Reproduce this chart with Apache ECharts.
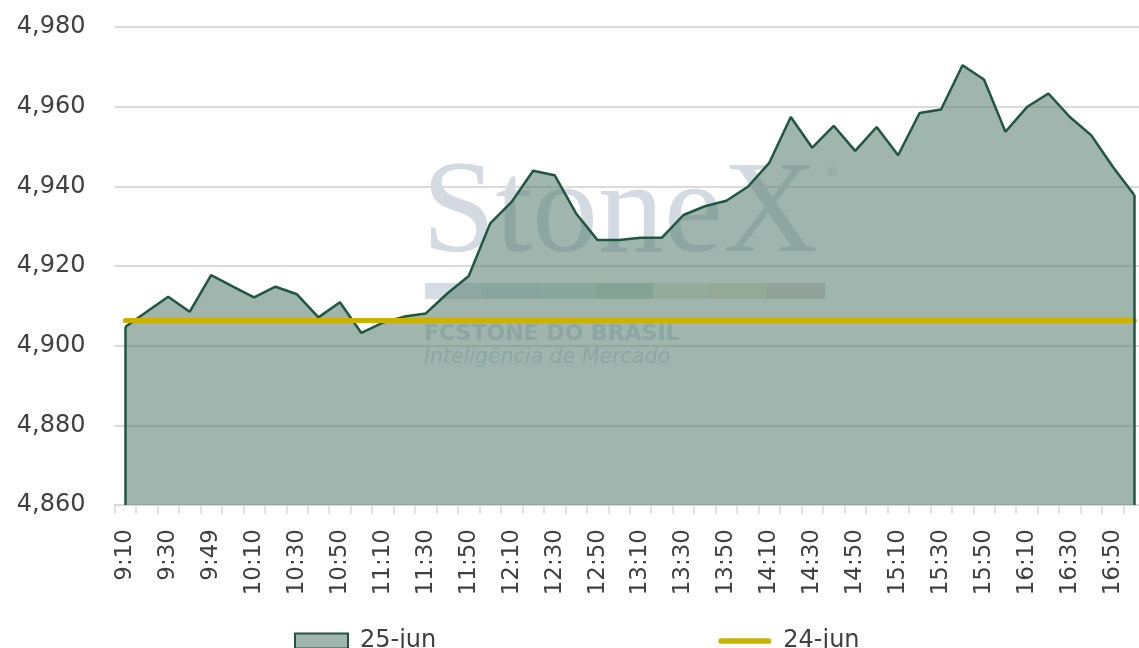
<!DOCTYPE html>
<html>
<head>
<meta charset="utf-8">
<script src="https://cdn.jsdelivr.net/npm/echarts@6/dist/echarts.min.js"></script>
<style>
  html, body { margin: 0; padding: 0; background: #ffffff; }
  #chart { width: 1139px; height: 648px; }
</style>
</head>
<body>
<div id="chart"></div>
<script>
// horários (eixo x)
const horarios = [
  '9:10', '9:20', '9:30', '9:40', '9:49', '10:00', '10:10', '10:20', '10:30', '10:40',
  '10:50', '11:00', '11:10', '11:20', '11:30', '11:40', '11:50', '12:00', '12:10', '12:20',
  '12:30', '12:40', '12:50', '13:00', '13:10', '13:20', '13:30', '13:40', '13:50', '14:00',
  '14:10', '14:20', '14:30', '14:40', '14:50', '15:00', '15:10', '15:20', '15:30', '15:40',
  '15:50', '16:00', '16:10', '16:20', '16:30', '16:40', '16:50', '17:00',
]

// 25-jun (área)
const dia25 = [
  4904.7, 4908.5, 4912.3, 4908.5, 4917.7, 4914.9, 4912.1, 4914.8, 4912.9, 4907.1,
  4910.9, 4903.2, 4905.8, 4907.3, 4908.1, 4913.1, 4917.5, 4930.7, 4936.1, 4943.9,
  4942.8, 4933.2, 4926.5, 4926.5, 4927.1, 4927.1, 4932.8, 4935.0, 4936.4, 4939.9,
  4945.9, 4957.4, 4949.7, 4955.2, 4948.9, 4954.9, 4947.8, 4958.4, 4959.3, 4970.4,
  4966.8, 4953.7, 4959.9, 4963.3, 4957.4, 4952.8, 4944.9, 4937.8,
]

// 24-jun (fechamento anterior, linha)
const dia24 = [
  4906.3, 4906.3, 4906.3, 4906.3, 4906.3, 4906.3, 4906.3, 4906.3, 4906.3, 4906.3,
  4906.3, 4906.3, 4906.3, 4906.3, 4906.3, 4906.3, 4906.3, 4906.3, 4906.3, 4906.3,
  4906.3, 4906.3, 4906.3, 4906.3, 4906.3, 4906.3, 4906.3, 4906.3, 4906.3, 4906.3,
  4906.3, 4906.3, 4906.3, 4906.3, 4906.3, 4906.3, 4906.3, 4906.3, 4906.3, 4906.3,
  4906.3, 4906.3, 4906.3, 4906.3, 4906.3, 4906.3, 4906.3, 4906.3,
]

const yMin = 4860
const yMax = 4980
const yStep = 20

const textColor = '#404040'
const verde = '#1f5740'
const amarelo = '#c8b400'
const fonte = '"DejaVu Sans", sans-serif'
const marcaDagua = '#d3dae1'

const chart = echarts.init(document.getElementById('chart'))

const last = horarios.length - 1

chart.setOption({
  animation: false,
  backgroundColor: '#ffffff',
  // marca d'água StoneX
  graphic: [
    {
      type: 'text',
      z: 0,
      silent: true,
      left: 422,
      top: 150,
      style: {
        text: 'StoneX',
        font: '132px "Liberation Serif", serif',
        fill: marcaDagua,
      },
    },
    {
      type: 'text',
      z: 0,
      silent: true,
      left: 826,
      top: 166,
      style: { text: '®', font: '13px "DejaVu Sans"', fill: marcaDagua },
    },
    { type: 'rect', z: 0, silent: true, shape: { x: 425, y: 283, width: 57, height: 16 }, style: { fill: '#d5dce3' } },
    { type: 'rect', z: 0, silent: true, shape: { x: 482, y: 283, width: 57, height: 16 }, style: { fill: '#c9d6d8' } },
    { type: 'rect', z: 0, silent: true, shape: { x: 539, y: 283, width: 57, height: 16 }, style: { fill: '#c6dcd8' } },
    { type: 'rect', z: 0, silent: true, shape: { x: 596, y: 283, width: 57, height: 16 }, style: { fill: '#b8d2c6' } },
    { type: 'rect', z: 0, silent: true, shape: { x: 653, y: 283, width: 57, height: 16 }, style: { fill: '#dbe5cf' } },
    { type: 'rect', z: 0, silent: true, shape: { x: 710, y: 283, width: 57, height: 16 }, style: { fill: '#e3e0c9' } },
    { type: 'rect', z: 0, silent: true, shape: { x: 767, y: 283, width: 58, height: 16 }, style: { fill: '#d6d0d0' } },
    {
      type: 'text',
      z: 0,
      silent: true,
      left: 424,
      top: 323,
      style: {
        text: 'FCSTONE DO BRASIL',
        font: 'bold 22px "DejaVu Sans", sans-serif',
        fill: marcaDagua,
      },
    },
    {
      type: 'text',
      z: 0,
      silent: true,
      left: 424,
      top: 348,
      style: {
        text: 'Inteligência de Mercado',
        font: 'italic 20.5px "DejaVu Sans", sans-serif',
        fill: marcaDagua,
      },
    },
  ],
  grid: {
    left: 114.5,
    right: -6,
    top: 27,
    bottom: 143,
    containLabel: false,
    outerBoundsMode: 'none',
  },
  legend: {
    left: 289,
    top: 624,
    itemWidth: 53,
    itemHeight: 15,
    itemGap: 282,
    selectedMode: false,
    textStyle: {
      color: textColor,
      fontSize: 24,
      fontFamily: fonte,
      padding: [0, 0, 0, 7],
    },
    data: [
      {
        name: '25-jun',
        icon: 'rect',
        itemStyle: { color: '#a0b5ad', borderColor: verde, borderWidth: 2 },
      },
      {
        name: '24-jun',
        icon: 'path://M3,0 L53,0 A3,3 0 0 1 53,6 L3,6 A3,3 0 0 1 3,0 Z',
        itemStyle: { color: amarelo, borderWidth: 0 },
      },
    ],
  },
  xAxis: {
    type: 'category',
    data: horarios,
    boundaryGap: true,
    axisLine: {
      show: true,
      lineStyle: { color: '#d9d9d9', width: 2 },
    },
    axisTick: {
      show: true,
      length: 9,
      interval: 0,
      lineStyle: { color: '#d9d9d9', width: 1.5 },
    },
    axisLabel: {
      interval: 1,
      rotate: 90,
      margin: 24,
      color: textColor,
      fontSize: 23,
      fontFamily: fonte,
    },
    splitLine: { show: false },
  },
  yAxis: {
    type: 'value',
    min: yMin,
    max: yMax,
    interval: yStep,
    axisLine: { show: false },
    axisTick: { show: false },
    axisLabel: {
      margin: 29,
      color: textColor,
      fontSize: 24,
      fontFamily: fonte,
      formatter: function (value) {
        return value.toLocaleString('en-US')
      },
    },
    splitLine: {
      show: true,
      lineStyle: { color: '#dedada', width: 2 },
    },
  },
  series: [
    {
      name: '25-jun',
      type: 'line',
      data: dia25,
      symbol: 'none',
      z: 2,
      lineStyle: { color: verde, width: 2.5 },
      itemStyle: { color: verde },
      areaStyle: { color: 'rgba(97,132,118,0.6)', opacity: 1 },
      emphasis: { disabled: true },
      // bordas verticais da área (início e fim)
      markLine: {
        silent: true,
        symbol: ['none', 'none'],
        label: { show: false },
        lineStyle: { color: verde, width: 2.5, type: 'solid' },
        data: [
          [{ coord: [horarios[0], yMin] }, { coord: [horarios[0], dia25[0]] }],
          [{ coord: [horarios[last], yMin] }, { coord: [horarios[last], dia25[last]] }],
        ],
      },
    },
    {
      name: '24-jun',
      type: 'line',
      data: dia24,
      symbol: 'none',
      z: 3,
      lineStyle: { color: amarelo, width: 5, cap: 'round' },
      itemStyle: { color: amarelo },
      emphasis: { disabled: true },
    },
  ],
})
</script>
</body>
</html>
